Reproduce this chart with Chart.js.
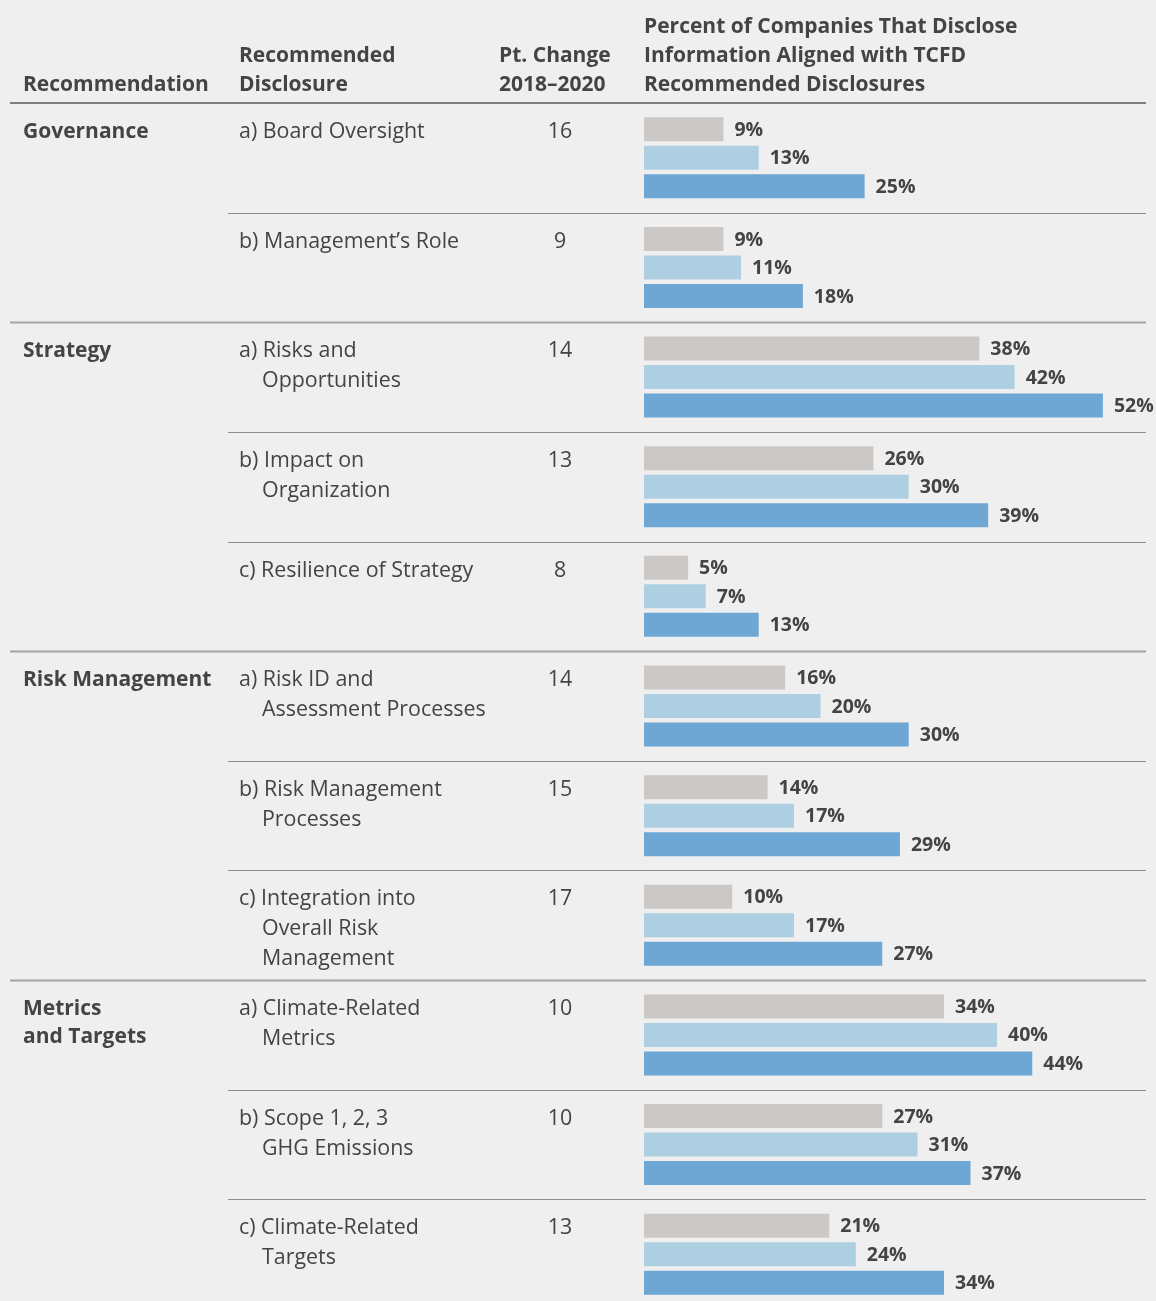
<!DOCTYPE html>
<html>
<head>
<meta charset="utf-8">
<script src="https://cdn.jsdelivr.net/npm/chart.js@4.4.1/dist/chart.umd.min.js"></script>
<style>
  html, body { margin: 0; padding: 0; background: #efefef; overflow: hidden; }
  canvas { display: block; }
</style>
</head>
<body>
<canvas id="chartTcfd" width="1156" height="1310"></canvas>
<script>
// TCFD recommendation groups (only set on the first row of each group)
const recommendations = [
  "Governance", "",
  "Strategy", "", "",
  "Risk Management", "", "",
  "Metrics\nand Targets", "", ""
];

const disclosures = [
  ["a) Board Oversight"],
  ["b) Management\u2019s Role"],
  ["a) Risks and", "Opportunities"],
  ["b) Impact on", "Organization"],
  ["c) Resilience of Strategy"],
  ["a) Risk ID and", "Assessment Processes"],
  ["b) Risk Management", "Processes"],
  ["c) Integration into", "Overall Risk", "Management"],
  ["a) Climate-Related", "Metrics"],
  ["b) Scope 1, 2, 3", "GHG Emissions"],
  ["c) Climate-Related", "Targets"]
];

const ptChange = [16, 9, 14, 13, 8, 14, 15, 17, 10, 10, 13];

const years = ["2018", "2019", "2020"];
const pct2018 = [9, 9, 38, 26, 5, 16, 14, 10, 34, 27, 21];
const pct2019 = [13, 11, 42, 30, 7, 20, 17, 17, 40, 31, 24];
const pct2020 = [25, 18, 52, 39, 13, 30, 29, 27, 44, 37, 34];

const barColors = ["#ccc8c5", "#aecfe2", "#6ea6d4"];
const textColor = "#444444";
const FONT = "'Open Sans', 'Noto Sans', sans-serif";

// draws the table columns, rules and the value labels around the bars
const tablePlugin = {
  id: "tableText",
  beforeDraw(chart) {
    const c = chart.ctx;
    c.save();
    c.fillStyle = "#efefef";
    c.fillRect(0, 0, chart.width, chart.height);
    c.restore();
  },
  afterDatasetsDraw(chart) {
    const c = chart.ctx;
    const yScale = chart.scales.y;
    const area = chart.chartArea;
    const rowH = yScale.getPixelForValue(1) - yScale.getPixelForValue(0);
    c.save();

    // column headers
    c.fillStyle = textColor;
    c.textBaseline = "alphabetic";
    c.textAlign = "left";
    c.font = "700 21px " + FONT;
    c.fillText("Recommendation", 23, 91);
    c.fillText("Recommended", 239, 62);
    c.fillText("Disclosure", 239, 91);
    c.fillText("Pt. Change", 499, 62);
    c.fillText("2018\u20132020", 499, 91);
    c.fillText("Percent of Companies That Disclose", 644, 33);
    c.fillText("Information Aligned with TCFD", 644, 62);
    c.fillText("Recommended Disclosures", 644, 91);

    // header rule
    c.strokeStyle = "#5a5a5a";
    c.lineWidth = 1.5;
    c.beginPath();
    c.moveTo(10, area.top);
    c.lineTo(1146, area.top);
    c.stroke();

    disclosures.forEach((lines, i) => {
      const top = yScale.getPixelForValue(i) - rowH / 2;
      const base = top + 35;

      if (i > 0) {
        const groupStart = recommendations[i] !== "";
        c.strokeStyle = groupStart ? "#a3a3a3" : "#8c8c8c";
        c.lineWidth = groupStart ? 2 : 1;
        c.beginPath();
        c.moveTo(groupStart ? 10 : 228, Math.round(top) + 0.5);
        c.lineTo(1146, Math.round(top) + 0.5);
        c.stroke();
      }

      c.fillStyle = textColor;
      c.textAlign = "left";
      if (recommendations[i]) {
        c.font = "700 21px " + FONT;
        recommendations[i].split("\n").forEach((t, k) => {
          c.fillText(t, 23, base + k * 28);
        });
      }

      c.font = "400 21.4px " + FONT;
      lines.forEach((t, k) => {
        c.fillText(t, k === 0 ? 239 : 262, base + k * 30);
      });

      c.textAlign = "center";
      c.fillText(String(ptChange[i]), 560, base);
    });

    // percentage labels after each bar
    c.font = "700 19.5px " + FONT;
    c.textAlign = "left";
    c.textBaseline = "middle";
    c.fillStyle = textColor;
    chart.data.datasets.forEach((ds, di) => {
      chart.getDatasetMeta(di).data.forEach((bar, i) => {
        c.fillText(ds.data[i] + "%", bar.x + 11, bar.y + 1);
      });
    });

    c.restore();
  }
};

const ctxBars = document.getElementById("chartTcfd").getContext("2d");

new Chart(ctxBars, {
  type: "bar",
  data: {
    labels: disclosures.map(d => d.join(" ")),
    datasets: [
      { label: years[0], data: pct2018, backgroundColor: barColors[0] },
      { label: years[1], data: pct2019, backgroundColor: barColors[1] },
      { label: years[2], data: pct2020, backgroundColor: barColors[2] }
    ]
  },
  options: {
    indexAxis: "y",
    responsive: false,
    animation: false,
    devicePixelRatio: 1,
    layout: {
      padding: { left: 644, right: 9, top: 103, bottom: 1 }
    },
    datasets: {
      bar: {
        categoryPercentage: 0.78,
        barPercentage: 0.842,
        borderWidth: 0
      }
    },
    scales: {
      x: { min: 0, max: 57, display: false },
      y: { display: false }
    },
    plugins: {
      legend: { display: false },
      tooltip: { enabled: false }
    }
  },
  plugins: [tablePlugin]
});
</script>
</body>
</html>
